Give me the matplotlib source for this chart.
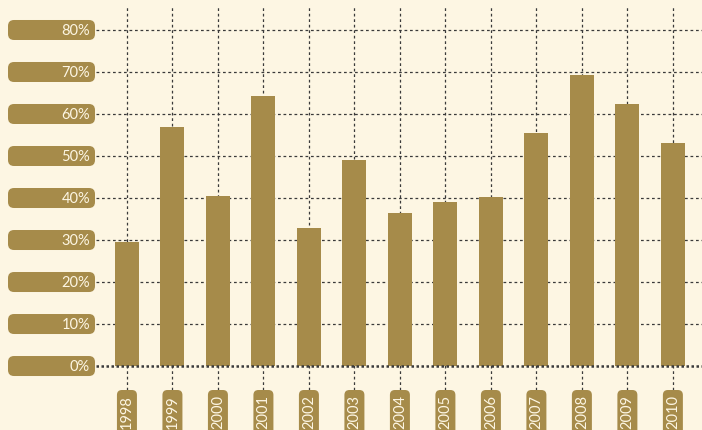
import matplotlib.pyplot as plt
from matplotlib.patches import FancyBboxPatch
from matplotlib.transforms import IdentityTransform

plt.rcParams['font.family'] = ['Lato', 'DejaVu Sans']

# data
years = ['1998', '1999', '2000', '2001', '2002', '2003', '2004',
         '2005', '2006', '2007', '2008', '2009', '2010']
values = [29.5, 56.9, 40.5, 64.3, 32.9, 49.0, 36.4, 39.0, 40.2, 55.5, 69.3, 62.4, 53.1]
yticks = [0, 10, 20, 30, 40, 50, 60, 70, 80]

bg = '#fdf6e3'
gold = '#a68b4a'
gridc = '#3a3a3a'

W, H = 702, 431
fig = plt.figure(figsize=(W / 100, H / 100), dpi=100, facecolor=bg)
ax = fig.add_axes([96 / W, 40 / H, 1 - 96 / W, (391 - 6) / H])
ax.set_facecolor(bg)
ax.set_xlim(-0.68, 12.64)
ax.set_ylim(-5.71, 85.95)
for s in ax.spines.values():
    s.set_visible(False)
ax.set_xticks([])
ax.set_yticks([])

x = list(range(len(years)))
# grid, fine dashes
ax.vlines(x, -5.71, 85.95, colors=gridc, linestyles=(0, (2.2, 2.2)), linewidth=0.9, zorder=1)
ax.hlines(yticks[1:], -0.68, 12.64, colors=gridc, linestyles=(0, (2.2, 2.2)), linewidth=0.9, zorder=1)
ax.bar(x, values, width=0.53, color=gold, zorder=2)
ax.axhline(0, color=gridc, linestyle=(0, (1, 1)), linewidth=1.8, zorder=3)

# y label pills
for v in yticks:
    _, py = ax.transData.transform((0, v))
    box = FancyBboxPatch((8, py - 10), 87, 20, boxstyle='round,pad=0,rounding_size=6',
                         transform=IdentityTransform(), facecolor=gold, edgecolor='none')
    fig.patches.append(box)
    fig.text(90 / W, py / H, f'{v}%', ha='right', va='center', color=bg, fontsize=10.5)

# x label pills
for i, yr in enumerate(years):
    px, _ = ax.transData.transform((i, 0))
    box = FancyBboxPatch((px - 10, -10), 20, 50, boxstyle='round,pad=0,rounding_size=5',
                         transform=IdentityTransform(), facecolor=gold, edgecolor='none')
    fig.patches.append(box)
    fig.text(px / W, 36 / H, yr, ha='center', va='top', rotation=90, color=bg, fontsize=10.5)

fig.savefig('out.png', dpi=100, facecolor=bg)
